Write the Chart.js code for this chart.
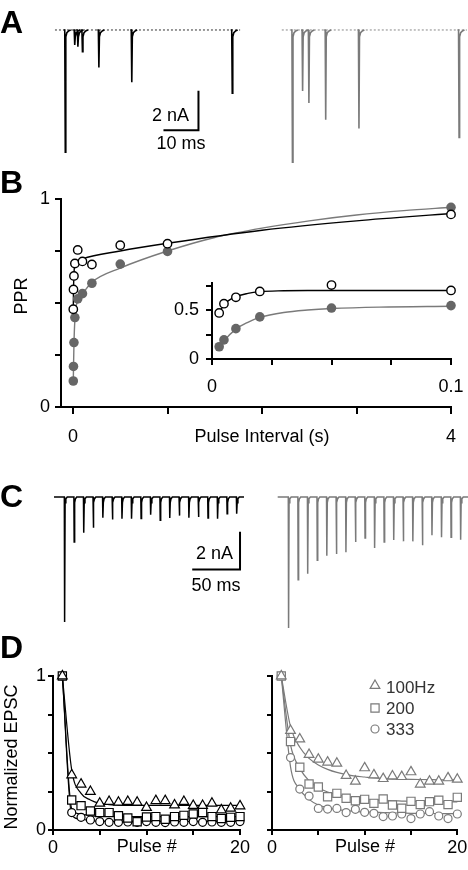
<!DOCTYPE html>
<html>
<head>
<meta charset="utf-8">
<title>Synaptic depression</title>
<script src="https://cdn.jsdelivr.net/npm/chart.js@4.4.1/dist/chart.umd.min.js"></script>
<style>
  html, body { margin: 0; padding: 0; background: #fff; }
  #page { position: relative; width: 468px; height: 870px; overflow: hidden; font-family: "Liberation Sans", Arial, sans-serif; }
  canvas { position: absolute; }
  .panel { position: absolute; left: 0; font-size: 32px; font-weight: bold; line-height: 1; }
</style>
</head>
<body>
<div id="page">
  <canvas id="chartA" width="468" height="170" style="left:0;top:0"></canvas>
  <canvas id="chartB" width="468" height="280" style="left:0;top:180px"></canvas>
  <canvas id="chartBin" width="318" height="130" style="left:150px;top:270px"></canvas>
  <canvas id="chartC" width="468" height="180" style="left:0;top:460px"></canvas>
  <canvas id="chartDL" width="250" height="230" style="left:0;top:640px"></canvas>
  <canvas id="chartDR" width="218" height="230" style="left:250px;top:640px"></canvas>
  <div class="panel" style="top:6px">A</div>
  <div class="panel" style="top:166px">B</div>
  <div class="panel" style="top:480px">C</div>
  <div class="panel" style="top:631px">D</div>
</div>
<script>
// ---- A: paired pulses (ms after first pulse, peak in nA)
var aBlackTimes = [0, 2.7, 3.6, 4.9, 9.6, 19, 47.7];
var aBlackAmps = [6.2, 0.76, 0.85, 1.1, 1.9, 2.65, 3.2];
var aGrayTimes = [0, 2.9, 4.7, 9.5, 19, 47.6];
var aGrayAmps = [6.7, 3.1, 3.7, 4.55, 5.0, 5.45];

// ---- B: paired pulse ratio
var bIntervals = [0.003, 0.005, 0.01, 0.02, 0.05, 0.1, 0.2, 0.5, 1, 4];
var bOpen = [0.47, 0.565, 0.63, 0.69, 0.755, 0.70, 0.685, 0.778, 0.785, 0.926];
var bFilled = [0.125, 0.195, 0.31, 0.43, 0.52, 0.545, 0.595, 0.687, 0.748, 0.96];
var bFitBlackX = [0.003, 0.005, 0.01, 0.02, 0.05, 0.1, 0.5, 1, 2, 3, 4];
var bFitBlackY = [0.47, 0.555, 0.635, 0.69, 0.70, 0.712, 0.75, 0.787, 0.85, 0.895, 0.93];
var bFitGrayX = [0.003, 0.005, 0.01, 0.02, 0.05, 0.1, 0.2, 0.5, 1, 1.5, 2, 2.5, 3, 3.5, 4];
var bFitGrayY = [0.12, 0.18, 0.3, 0.42, 0.515, 0.545, 0.6, 0.668, 0.75, 0.815, 0.86, 0.895, 0.923, 0.944, 0.96];
var inFitX = [0.003, 0.005, 0.01, 0.015, 0.02, 0.03, 0.04, 0.05, 0.07, 0.1];
var inFitBlackY = [0.47, 0.555, 0.635, 0.67, 0.688, 0.697, 0.7, 0.7, 0.7, 0.7];
var inFitGrayY = [0.12, 0.185, 0.305, 0.375, 0.425, 0.475, 0.5, 0.515, 0.53, 0.538];

// ---- C: 100 Hz trains (nA)
var cInterval = 10;
var cBlackAmps = [6.65, 2.4, 1.9, 1.63, 1.1, 1.2, 1.15, 1.15, 1.15, 0.94, 1.24, 1.12, 0.99, 1.1, 1.06, 1.12, 1.15, 0.89, 0.89];
var cGrayAmps = [6.97, 4.4, 4.08, 3.37, 3.12, 3.03, 2.94, 2.39, 2.18, 2.71, 2.39, 2.29, 2.36, 2.36, 2.57, 2.04, 2.14, 2.14, 2.27];

// ---- D: normalized EPSC
var pulses = [1, 2, 3, 4, 5, 6, 7, 8, 9, 10, 11, 12, 13, 14, 15, 16, 17, 18, 19, 20];
var dLeft100 = [1, 0.357, 0.297, 0.249, 0.173, 0.184, 0.18, 0.184, 0.18, 0.145, 0.19, 0.19, 0.162, 0.184, 0.158, 0.158, 0.173, 0.13, 0.141, 0.156];
var dLeft200 = [1, 0.195, 0.158, 0.123, 0.113, 0.113, 0.093, 0.078, 0.054, 0.084, 0.087, 0.07, 0.087, 0.095, 0.104, 0.113, 0.087, 0.074, 0.082, 0.087];
var dLeft333 = [1, 0.113, 0.082, 0.065, 0.055, 0.05, 0.05, 0.052, 0.05, 0.055, 0.05, 0.048, 0.052, 0.05, 0.055, 0.05, 0.052, 0.05, 0.05, 0.055];
var dRight100 = [1, 0.645, 0.59, 0.49, 0.459, 0.44, 0.433, 0.353, 0.316, 0.403, 0.357, 0.333, 0.35, 0.346, 0.377, 0.297, 0.316, 0.316, 0.338, 0.329];
var dRight200 = [1, 0.574, 0.407, 0.299, 0.279, 0.216, 0.238, 0.206, 0.19, 0.199, 0.173, 0.201, 0.162, 0.141, 0.186, 0.165, 0.184, 0.193, 0.165, 0.212];
var dRight333 = [1, 0.47, 0.266, 0.22, 0.14, 0.136, 0.14, 0.113, 0.134, 0.115, 0.108, 0.087, 0.091, 0.104, 0.074, 0.104, 0.119, 0.091, 0.074, 0.104];
var fitL100 = [1, 0.39, 0.238, 0.195, 0.173, 0.165, 0.162, 0.16, 0.16, 0.16, 0.16, 0.16, 0.16, 0.16, 0.16, 0.16, 0.16, 0.16, 0.16, 0.16];
var fitL200 = [1, 0.14, 0.104, 0.092, 0.089, 0.088, 0.087, 0.087, 0.087, 0.087, 0.087, 0.087, 0.087, 0.087, 0.087, 0.087, 0.087, 0.087, 0.087, 0.087];
var fitL333 = [1, 0.097, 0.07, 0.06, 0.057, 0.056, 0.056, 0.056, 0.056, 0.056, 0.056, 0.056, 0.056, 0.056, 0.056, 0.056, 0.056, 0.056, 0.056, 0.056];
var fitR100 = [1, 0.671, 0.537, 0.465, 0.422, 0.394, 0.374, 0.361, 0.35, 0.344, 0.338, 0.334, 0.331, 0.33, 0.329, 0.328, 0.327, 0.326, 0.326, 0.325];
var fitR200 = [1, 0.552, 0.40, 0.32, 0.275, 0.247, 0.23, 0.216, 0.207, 0.2, 0.196, 0.193, 0.19, 0.188, 0.186, 0.185, 0.184, 0.183, 0.182, 0.182];
var fitR333 = [1, 0.41, 0.264, 0.199, 0.162, 0.145, 0.132, 0.126, 0.121, 0.117, 0.115, 0.113, 0.111, 0.11, 0.108, 0.108, 0.107, 0.107, 0.106, 0.106];
var legendLabels = ['100Hz', '200', '333'];

var FONT = '"Liberation Sans", Arial, sans-serif';
var GRAY = '#7a7a7a';
var FILL = '#666';

Chart.defaults.font.family = FONT;
Chart.defaults.font.size = 18;
Chart.defaults.color = '#000';
Chart.defaults.animation = false;
Chart.defaults.plugins.legend.display = false;
Chart.defaults.plugins.tooltip.enabled = false;

function xy(xs, ys) {
    return xs.map(function (x, i) { return { x: x, y: ys[i] }; });
}

// free text drawn in page coordinates
function textPlugin(items) {
    return {
        id: 'texts',
        afterDraw: function (chart) {
            var ctx = chart.ctx;
            var ox = chart.canvas.offsetLeft, oy = chart.canvas.offsetTop;
            items.forEach(function (it) {
                ctx.save();
                ctx.font = (it.size || 18) + 'px ' + FONT;
                ctx.fillStyle = it.color || '#000';
                ctx.textAlign = it.align || 'center';
                ctx.textBaseline = 'middle';
                ctx.translate(it.x - ox, it.y - oy);
                if (it.rot) ctx.rotate(it.rot);
                ctx.fillText(it.text, 0, 0);
                ctx.restore();
            });
        }
    };
}

function xAxis(min, max, ticks, labels, tl, pad, h) {
    return {
        type: 'linear', position: 'bottom', min: min, max: max,
        afterBuildTicks: function (s) { s.ticks = ticks.map(function (v) { return { value: v }; }); },
        afterFit: function (s) { s.height = h; s.paddingLeft = 0; s.paddingRight = 0; },
        ticks: { autoSkip: false, maxRotation: 0, padding: pad,
                 callback: function (v) { return labels.indexOf(v) >= 0 ? String(v) : ''; } },
        grid: { drawOnChartArea: false, drawTicks: true, tickLength: tl, color: '#000', lineWidth: 2 },
        border: { display: true, color: '#000', width: 2 }
    };
}

function yAxis(min, max, ticks, labels, tl, pad, w) {
    return {
        type: 'linear', position: 'left', min: min, max: max,
        afterBuildTicks: function (s) { s.ticks = ticks.map(function (v) { return { value: v }; }); },
        afterFit: function (s) { s.width = w; s.paddingTop = 0; s.paddingBottom = 0; },
        ticks: { autoSkip: false, padding: pad,
                 callback: function (v) { return labels.indexOf(v) >= 0 ? String(v) : ''; } },
        grid: { drawOnChartArea: false, drawTicks: true, tickLength: tl, color: '#000', lineWidth: 2 },
        border: { display: true, color: '#000', width: 2 }
    };
}

// ---------- A ----------
function pairTrace(times, amps, start) {
    var pts = [];
    times.forEach(function (t, i) {
        var s = start + t, a = amps[i];
        pts.push({ x: s - 0.3, y: 0 }, { x: s, y: 0 }, { x: s + 0.15, y: -a },
                 { x: s + 0.3, y: -0.35 }, { x: s + 0.6, y: -0.14 }, { x: s + 1.2, y: -0.04 },
                 { x: s + 1.7, y: 0 }, { x: s + 1.8, y: null });
    });
    return pts;
}
var aGrayStart = 64.9;
new Chart(document.getElementById('chartA'), {
    type: 'line',
    data: {
        datasets: [
            { data: pairTrace(aBlackTimes, aBlackAmps, 0), borderColor: '#000', borderWidth: 1.6, pointRadius: 0, order: 1 },
            { data: pairTrace(aGrayTimes, aGrayAmps, aGrayStart), borderColor: GRAY, borderWidth: 1.6, pointRadius: 0, order: 1 },
            { data: [{ x: -2.8, y: 0 }, { x: 50.1, y: 0 }], borderColor: '#333', borderWidth: 1, borderDash: [2, 2], pointRadius: 0, order: 2 },
            { data: [{ x: aGrayStart - 2.9, y: 0 }, { x: 114.9, y: 0 }], borderColor: '#888', borderWidth: 1, borderDash: [2, 2], pointRadius: 0, order: 2 },
            { data: [{ x: 28.2, y: -5.08 }, { x: 38.2, y: -5.08 }, { x: 38.2, y: -3.08 }], borderColor: '#000', borderWidth: 2, pointRadius: 0 }
        ]
    },
    options: {
        responsive: false, devicePixelRatio: 1, spanGaps: false,
        layout: { padding: 0, autoPadding: false },
        scales: { x: { type: 'linear', display: false, min: -18.5, max: 115.2 },
                  y: { display: false, min: -7.1, max: 1.52 } }
    },
    plugins: [textPlugin([
        { text: '2 nA', x: 189, y: 116, align: 'right' },
        { text: '10 ms', x: 181, y: 144 }
    ])]
});

// ---------- B ----------
var circleOpen = { showLine: false, pointRadius: 4.2, pointBorderWidth: 1.4, pointBorderColor: '#000', pointBackgroundColor: '#fff', order: 1, clip: false };
var circleFill = { showLine: false, pointRadius: 4.8, pointBorderWidth: 0, pointBackgroundColor: FILL, order: 1, clip: false };
function fitLine(data, color, w) {
    return { data: data, borderColor: color, borderWidth: w || 1.4, pointRadius: 0, cubicInterpolationMode: 'monotone', order: 2, clip: false };
}
new Chart(document.getElementById('chartB'), {
    type: 'line',
    data: {
        datasets: [
            Object.assign({ data: xy(bIntervals, bOpen) }, circleOpen),
            Object.assign({ data: xy(bIntervals, bFilled) }, circleFill),
            fitLine(xy(bFitBlackX, bFitBlackY), '#000'),
            fitLine(xy(bFitGrayX, bFitGrayY), GRAY)
        ]
    },
    options: {
        responsive: false, devicePixelRatio: 1,
        layout: { padding: { top: 19, right: 17, left: 0, bottom: 0 }, autoPadding: false },
        scales: {
            x: xAxis(-0.127, 4, [0, 1, 2, 3, 4], [0, 4], 7, 12, 53),
            y: yAxis(0, 1, [0, 0.25, 0.5, 0.75, 1], [0, 1], 6, 5, 61)
        }
    },
    plugins: [textPlugin([
        { text: 'PPR', x: 22, y: 296, rot: -Math.PI / 2 },
        { text: 'Pulse Interval (s)', x: 262, y: 437 }
    ])]
});

var inN = bIntervals.filter(function (v) { return v <= 0.1; }).length;
new Chart(document.getElementById('chartBin'), {
    type: 'line',
    data: {
        datasets: [
            Object.assign({ data: xy(bIntervals.slice(0, inN), bOpen.slice(0, inN)) }, circleOpen),
            Object.assign({ data: xy(bIntervals.slice(0, inN), bFilled.slice(0, inN)) }, circleFill),
            fitLine(xy(inFitX, inFitBlackY), '#000'),
            fitLine(xy(inFitX, inFitGrayY), GRAY)
        ]
    },
    options: {
        responsive: false, devicePixelRatio: 1,
        layout: { padding: { top: 13, right: 17, left: 0, bottom: 0 }, autoPadding: false },
        scales: {
            x: xAxis(0, 0.1, [0, 0.025, 0.05, 0.075, 0.1], [0, 0.1], 6, 11, 41),
            y: yAxis(0, 0.776, [0, 0.25, 0.5, 0.75], [0, 0.5], 6, 7, 62)
        }
    }
});

// ---------- C ----------
function trainTrace(amps, start, t0, t1) {
    var pts = [{ x: start + t0, y: 0 }];
    amps.forEach(function (a, i) {
        var s = start + i * cInterval;
        pts.push({ x: s, y: 0 }, { x: s + 0.3, y: -a }, { x: s + 0.8, y: -0.3 },
                 { x: s + 1.6, y: -0.1 }, { x: s + 3, y: 0 });
    });
    pts.push({ x: start + t1, y: 0 });
    return pts;
}
var cGrayStart = 234.3;
new Chart(document.getElementById('chartC'), {
    type: 'line',
    data: {
        datasets: [
            { data: trainTrace(cBlackAmps, 0, -10.8, 188), borderColor: '#000', borderWidth: 1.5, pointRadius: 0 },
            { data: trainTrace(cGrayAmps, cGrayStart, -11.1, 188), borderColor: GRAY, borderWidth: 1.5, pointRadius: 0 },
            { data: [{ x: 133.8, y: -3.85 }, { x: 183.8, y: -3.85 }, { x: 183.8, y: -1.85 }], borderColor: '#000', borderWidth: 2, pointRadius: 0 }
        ]
    },
    options: {
        responsive: false, devicePixelRatio: 1,
        layout: { padding: 0, autoPadding: false },
        scales: { x: { type: 'linear', display: false, min: -67.3, max: 422.3 },
                  y: { display: false, min: -7.606, max: 1.968 } }
    },
    plugins: [textPlugin([
        { text: '2 nA', x: 233, y: 554, align: 'right' },
        { text: '50 ms', x: 216, y: 586 }
    ])]
});

// ---------- D ----------
var markerSizes = { triangle: 5.6, rect: 5.8, circle: 4 };
function marker(style) {
    return { showLine: false, pointStyle: style, pointRadius: markerSizes[style], pointBorderWidth: 1.2, pointBackgroundColor: '#fff', order: 1, clip: false };
}
function dSets(color, s100, s200, s333, f100, f200, f333) {
    return [
        Object.assign({ data: xy(pulses, s100), pointBorderColor: color }, marker('triangle')),
        Object.assign({ data: xy(pulses, s200), pointBorderColor: color }, marker('rect')),
        Object.assign({ data: xy(pulses, s333), pointBorderColor: color }, marker('circle')),
        fitLine(xy(pulses, f100), color, 1.2),
        fitLine(xy(pulses, f200), color, 1.2),
        fitLine(xy(pulses, f333), color, 1.2)
    ];
}
var legendPlugin = {
    id: 'dlegend',
    afterDraw: function (chart) {
        var ctx = chart.ctx, ox = chart.canvas.offsetLeft, oy = chart.canvas.offsetTop;
        var styles = ['triangle', 'rect', 'circle'], ys = [687, 708, 729];
        legendLabels.forEach(function (lab, i) {
            var x = 375 - ox, y = ys[i] - oy, st = styles[i], r = markerSizes[st];
            ctx.save();
            ctx.strokeStyle = GRAY; ctx.fillStyle = '#fff'; ctx.lineWidth = 1.2;
            ctx.beginPath();
            if (st === 'triangle') {
                var cy = y - r / 4;
                ctx.moveTo(x, cy - r); ctx.lineTo(x + r * 0.866, cy + r / 2); ctx.lineTo(x - r * 0.866, cy + r / 2); ctx.closePath();
            } else if (st === 'rect') {
                var h = r * Math.SQRT1_2;
                ctx.rect(x - h, y - h, 2 * h, 2 * h);
            } else {
                ctx.arc(x, y, r, 0, Math.PI * 2);
            }
            ctx.fill(); ctx.stroke();
            ctx.font = '17px ' + FONT; ctx.fillStyle = '#333';
            ctx.textAlign = 'left'; ctx.textBaseline = 'middle';
            ctx.fillText(lab, 386 - ox, y + 1);
            ctx.restore();
        });
    }
};

new Chart(document.getElementById('chartDL'), {
    type: 'line',
    data: { datasets: dSets('#000', dLeft100, dLeft200, dLeft333, fitL100, fitL200, fitL333) },
    options: {
        responsive: false, devicePixelRatio: 1,
        layout: { padding: { top: 36, right: 10, left: 0, bottom: 0 }, autoPadding: false },
        scales: {
            x: xAxis(0, 20, [0, 5, 10, 15, 20], [0, 20], 5, 2, 40),
            y: yAxis(0, 1, [0, 0.25, 0.5, 0.75, 1], [0, 1], 5, 2, 53)
        }
    },
    plugins: [textPlugin([
        { text: 'Normalized EPSC', x: 12.5, y: 757, rot: -Math.PI / 2 },
        { text: 'Pulse #', x: 146.7, y: 847.5 }
    ])]
});

new Chart(document.getElementById('chartDR'), {
    type: 'line',
    data: { datasets: dSets(GRAY, dRight100, dRight200, dRight333, fitR100, fitR200, fitR333) },
    options: {
        responsive: false, devicePixelRatio: 1,
        layout: { padding: { top: 36, right: 10.7, left: 0, bottom: 0 }, autoPadding: false },
        scales: {
            x: xAxis(0, 20, [0, 5, 10, 15, 20], [0, 20], 5, 2, 40),
            y: yAxis(0, 1, [0, 0.25, 0.5, 0.75, 1], [], 5, 1, 22)
        }
    },
    plugins: [textPlugin([
        { text: 'Pulse #', x: 365, y: 847.5 }
    ]), legendPlugin]
});
</script>
</body>
</html>
